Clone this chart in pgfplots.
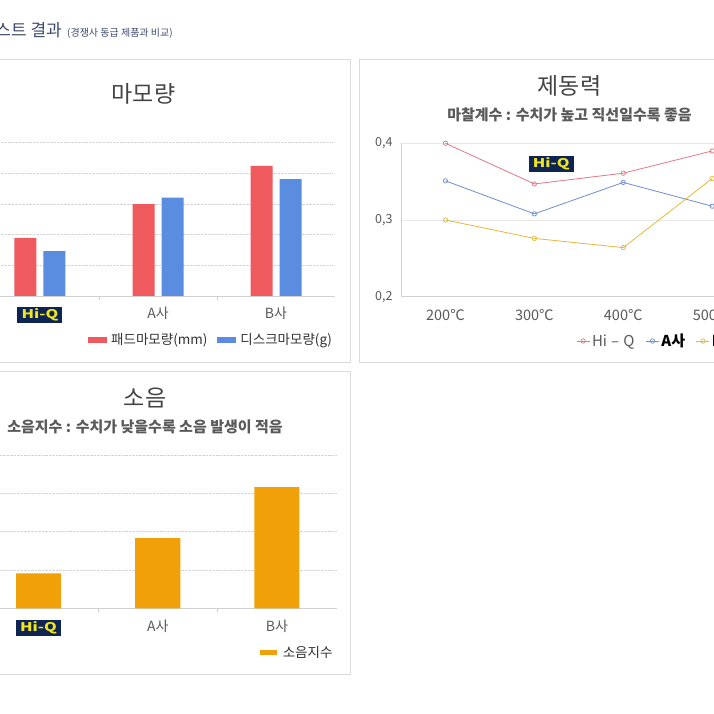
\documentclass[border=0pt]{standalone}
\usepackage{graphicx}
\usepackage{pgfplots}
\pgfplotsset{compat=1.18}
\usepackage{fontspec}
\setmainfont{Noto Sans CJK KR}
\definecolor{padred}{HTML}{EE5A5E}
\definecolor{discblue}{HTML}{5A8CE0}
\definecolor{noiseorg}{HTML}{F0A10A}
\definecolor{lhq}{HTML}{E07888}
\definecolor{la}{HTML}{6F8DCF}
\definecolor{lb}{HTML}{E6B83A}
\definecolor{navy}{HTML}{0E2452}
\definecolor{badgey}{HTML}{F0E51E}
\definecolor{hdr}{HTML}{3E4B6E}
\definecolor{paneline}{HTML}{DADADA}
\definecolor{gridc}{HTML}{D4D4D4}
\definecolor{gridl}{HTML}{E8E8E8}
\definecolor{axisc}{HTML}{D0D0D0}
\definecolor{txt}{HTML}{5A5A5A}
\definecolor{txtd}{HTML}{333333}
\definecolor{titc}{HTML}{444444}
\newcommand{\hiq}{{\setlength{\fboxsep}{2pt}\colorbox{navy}{\makebox[41pt]{\rule[-2.5pt]{0pt}{10pt}\textcolor{badgey}{\fontsize{12}{12}\selectfont\bfseries\scalebox{1.35}[1]{Hi-Q}}}}}}
\begin{document}
\begin{tikzpicture}[x=1pt,y=1pt]
\useasboundingbox (0,0) rectangle (714,714);
\clip (0,0) rectangle (714,714);
\fill[white] (0,0) rectangle (714,714);
% header
\node[anchor=base east, inner sep=0pt, text=hdr, font=\fontsize{17}{17}\selectfont] at (62,677.5) {테스트 결과};
\node[anchor=base west, inner sep=0pt, text=hdr, font=\fontsize{10}{10}\selectfont] at (67,677.5) {(경쟁사 동급 제품과 비교)};
% panels
\draw[paneline, line width=0.8pt] (-10,351.3) rectangle (350,654.7);
\draw[paneline, line width=0.8pt] (359.5,351.3) rectangle (730,654.7);
\draw[paneline, line width=0.8pt] (-10,40) rectangle (350,342.3);
% titles
\node[text=titc, font=\fontsize{23}{23}\selectfont] at (143.5,620) {마모량};
\node[text=titc, font=\fontsize{23}{23}\selectfont] at (569.5,628) {제동력};
\node[text=txt, font=\fontsize{15}{15}\selectfont\bfseries] at (569.5,599) {마찰계수 : 수치가 높고 직선일수록 좋음};
\node[text=titc, font=\fontsize{23}{23}\selectfont] at (145,316) {소음};
\node[text=txt, font=\fontsize{15}{15}\selectfont\bfseries] at (145,287) {소음지수 : 수치가 낮을수록 소음 발생이 적음};

% chart 1
\begin{axis}[
  at={(-19pt,418pt)}, anchor=south west, scale only axis,
  width=354pt, height=153.3pt,
  xmin=-0.5, xmax=2.5, ymin=0, ymax=5,
  axis x line=bottom, axis y line=left,
  x axis line style={-, draw=axisc}, y axis line style={draw=none},
  xtick={0,1,2}, xticklabels={\hiq,A사,B사},
  ytick={1,2,3,4,5}, yticklabels={},
  major tick length=0pt,
  ymajorgrids, grid style={densely dotted, gridc},
  extra x ticks={0.5,1.5}, extra x tick labels={},
  extra x tick style={major tick length=4pt, tick style={axisc}, xtick align=outside, grid=none},
  tick label style={font=\fontsize{14}{14}\selectfont, text=txt},
  xticklabel style={yshift=-7pt},
  legend image code/.code={\fill[#1] (0pt,-3pt) rectangle (19pt,3pt);},
  legend style={at={(1.006,-0.287)}, anchor=east, draw=none, fill=none,
    legend columns=-1, font=\fontsize{13.5}{13.5}\selectfont, text=txtd,
    /tikz/every odd column/.append style={column sep=2pt},
    /tikz/every even column/.append style={column sep=8pt}},
  clip=false,
]
\addplot[ybar, bar width=22pt, bar shift=-14.5pt, fill=padred, draw=none] coordinates {(0,1.89) (1,3.0) (2,4.24)};
\addlegendentry{패드마모량(mm)}
\addplot[ybar, bar width=22pt, bar shift=14.5pt, fill=discblue, draw=none] coordinates {(0,1.46) (1,3.21) (2,3.81)};
\addlegendentry{디스크마모량(g)}
\end{axis}

% chart 2
\begin{axis}[
  at={(401pt,417.3pt)}, anchor=south west, scale only axis,
  width=444.5pt, height=153.4pt,
  xmin=-0.5, xmax=4.5, ymin=0.2, ymax=0.4,
  axis x line=bottom, axis y line=left,
  axis line style={-, draw=axisc},
  xtick={0,1,2,3,4}, xticklabels={200℃,300℃,400℃,500℃,600℃},
  ytick={0.2,0.3,0.4}, yticklabels={{0,2},{0,3},{0,4}},
  major tick length=0pt,
  ymajorgrids, grid style={gridl},
  xticklabel style={font=\fontsize{14.5}{14.5}\selectfont, text=txt, yshift=-9pt},
  yticklabel style={font=\fontsize{12.5}{12.5}\selectfont, text=txt, xshift=-5pt},
  legend image code/.code={\draw[mark repeat=2, mark phase=2, #1] plot coordinates {(0pt,0pt) (6.5pt,0pt) (13pt,0pt)};},
  legend style={at={(0.387,-0.289)}, anchor=west, draw=none, fill=none,
    legend columns=-1, font=\fontsize{15}{15}\selectfont, text=txt,
    /tikz/every odd column/.append style={column sep=0pt},
    /tikz/every even column/.append style={column sep=9pt}},
  clip=false,
]
\addplot[lhq, line width=0.8pt, mark=o, mark size=2.2pt, mark options={fill=white, line width=0.7pt}] coordinates {(0,0.400) (1,0.347) (2,0.361) (3,0.390)};
\addlegendentry{Hi\;–\;Q}
\addplot[la, line width=0.8pt, mark=o, mark size=2.2pt, mark options={fill=white, line width=0.7pt}] coordinates {(0,0.351) (1,0.308) (2,0.349) (3,0.318)};
\addlegendentry{\textcolor{black}{\bfseries A사}}
\addplot[lb, line width=0.8pt, mark=o, mark size=2.2pt, mark options={fill=white, line width=0.7pt}] coordinates {(0,0.300) (1,0.276) (2,0.264) (3,0.354)};
\addlegendentry{\textcolor{black}{\bfseries B사}}
\node at (axis cs:1.19,0.373) {\hiq};
\end{axis}

% chart 3
\begin{axis}[
  at={(-21.1pt,105.7pt)}, anchor=south west, scale only axis,
  width=357.7pt, height=153.3pt,
  xmin=-0.5, xmax=2.5, ymin=0, ymax=4,
  axis x line=bottom, axis y line=left,
  x axis line style={-, draw=axisc}, y axis line style={draw=none},
  xtick={0,1,2}, xticklabels={\hiq,A사,B사},
  ytick={1,2,3,4}, yticklabels={},
  major tick length=0pt,
  ymajorgrids, grid style={densely dotted, gridc},
  extra x ticks={0.5,1.5}, extra x tick labels={},
  extra x tick style={major tick length=4pt, tick style={axisc}, xtick align=outside, grid=none},
  tick label style={font=\fontsize{14}{14}\selectfont, text=txt},
  xticklabel style={yshift=-8pt},
  legend image code/.code={\fill[#1] (0pt,-2.5pt) rectangle (17pt,2.5pt);},
  legend style={at={(1.003,-0.29)}, anchor=east, draw=none, fill=none,
    legend columns=-1, font=\fontsize{13.5}{13.5}\selectfont, text=txtd,
    /tikz/every odd column/.append style={column sep=4pt}},
  clip=false,
]
\addplot[ybar, bar width=45pt, bar shift=0pt, fill=noiseorg, draw=none] coordinates {(0,0.91) (1,1.83) (2,3.16)};
\addlegendentry{소음지수}
\end{axis}
\end{tikzpicture}
\end{document}
